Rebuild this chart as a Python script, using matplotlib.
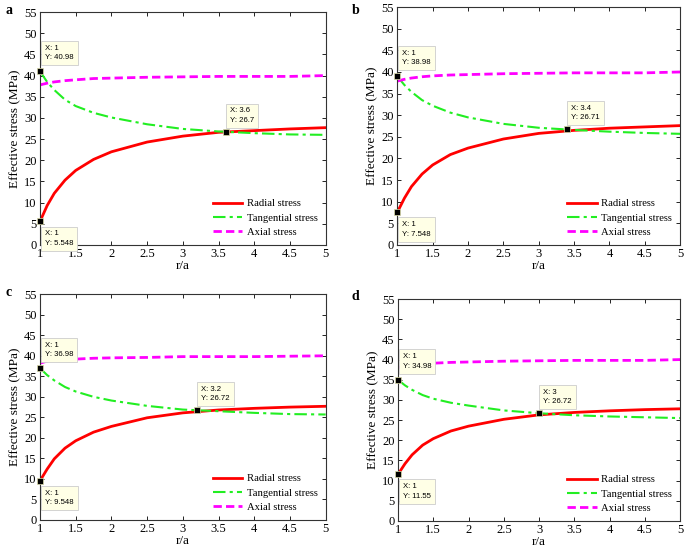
import matplotlib
matplotlib.use('Agg')
import matplotlib.pyplot as plt
from matplotlib.ticker import MultipleLocator, FormatStrFormatter

plt.rcParams['font.family'] = ['Liberation Serif', 'DejaVu Serif']

# r/a sample positions
x = [1, 1.1, 1.2, 1.35, 1.5, 1.75, 2, 2.5, 3, 3.5, 4, 4.5, 5]

radial_a = [5.55, 9.3, 12.2, 15.3, 17.6, 20.2, 22.0, 24.3, 25.7, 26.6, 27.0, 27.4, 27.7]
tang_a = [40.98, 38.5, 36.6, 34.3, 32.8, 31.2, 30.1, 28.5, 27.4, 26.8, 26.4, 26.1, 26.0]
axial_a = [37.8, 38.2, 38.5, 38.8, 39.0, 39.3, 39.4, 39.6, 39.7, 39.8, 39.8, 39.8, 40.0]

radial_b = [7.55, 10.8, 13.5, 16.4, 18.5, 20.9, 22.4, 24.5, 25.8, 26.5, 27.0, 27.3, 27.6]
tang_b = [38.98, 37.0, 35.4, 33.5, 32.2, 30.6, 29.5, 28.0, 27.1, 26.6, 26.2, 25.9, 25.7]
axial_b = [37.9, 38.3, 38.6, 38.9, 39.1, 39.3, 39.4, 39.6, 39.7, 39.8, 39.8, 39.8, 40.0]

radial_c = [9.55, 12.4, 14.9, 17.5, 19.3, 21.4, 22.8, 24.9, 26.1, 26.8, 27.2, 27.5, 27.7]
tang_c = [36.98, 35.3, 34.0, 32.4, 31.3, 30.0, 29.1, 27.8, 26.9, 26.5, 26.1, 25.8, 25.7]
axial_c = [38.2, 38.7, 38.9, 39.1, 39.2, 39.4, 39.5, 39.6, 39.8, 39.8, 39.8, 39.9, 40.0]

radial_d = [11.55, 14.2, 16.4, 18.8, 20.4, 22.3, 23.5, 25.2, 26.3, 26.9, 27.3, 27.6, 27.8]
tang_d = [34.98, 33.6, 32.5, 31.2, 30.3, 29.3, 28.6, 27.4, 26.7, 26.2, 25.9, 25.7, 25.5]
axial_d = [38.0, 38.5, 38.8, 39.0, 39.1, 39.3, 39.4, 39.6, 39.7, 39.8, 39.8, 39.8, 40.0]

# data tips: (x, y, label text) - top, bottom, crossing
tips_a = [(1, 40.98, '40.98'), (1, 5.548, '5.548'), (3.6, 26.7, '26.7')]
tips_b = [(1, 38.98, '38.98'), (1, 7.548, '7.548'), (3.4, 26.71, '26.71')]
tips_c = [(1, 36.98, '36.98'), (1, 9.548, '9.548'), (3.2, 26.72, '26.72')]
tips_d = [(1, 34.98, '34.98'), (1, 11.55, '11.55'), (3, 26.72, '26.72')]

panels = [
    ('a', [0.0584, 0.553, 0.417, 0.425], radial_a, tang_a, axial_a, tips_a, (5, 10)),
    ('b', [0.580, 0.553, 0.413, 0.434], radial_b, tang_b, axial_b, tips_b, (352, 10)),
    ('c', [0.0584, 0.0511, 0.417, 0.412], radial_c, tang_c, axial_c, tips_c, (5, 293)),
    ('d', [0.581, 0.0493, 0.412, 0.405], radial_d, tang_d, axial_d, tips_d, (352, 297)),
]

fig = plt.figure(figsize=(6.85, 5.48), dpi=100)

for name, rect, rad, tang, axl, tips, lab in panels:
    ax = fig.add_axes(rect)
    ax.plot(x, rad, color='red', lw=2.0, label='Radial stress')
    ax.plot(x, tang, color='#22ee22', lw=1.5, linestyle=(0, (6, 2, 1.5, 2)), label='Tangential stress')
    ax.plot(x, axl, color='#ff00ff', lw=2.0, linestyle=(0, (3, 1.5)), label='Axial stress')
    ax.set_xlim(1, 5)
    ax.set_ylim(0, 55)
    ax.xaxis.set_major_locator(MultipleLocator(0.5))
    ax.yaxis.set_major_locator(MultipleLocator(5))
    ax.xaxis.set_major_formatter(FormatStrFormatter('%g'))
    ax.tick_params(direction='in', top=True, right=True, labelsize=9, length=3, width=0.6, pad=2.5)
    for s in ax.spines.values():
        s.set_linewidth(0.8)
        s.set_color('#333333')
    ax.set_xlabel('r/a', fontsize=9.5, labelpad=0)
    ax.set_ylabel('Effective stress (MPa)', fontsize=9.5, labelpad=2)
    ax.legend(loc='lower right', frameon=False, fontsize=7.7, handlelength=2.8,
              labelspacing=0.45, handletextpad=0.4, borderaxespad=0.35)

    offsets = [((5, 10), 'bottom'), ((5, -9), 'top'), ((4, 8), 'bottom')]
    for (tx, ty, txt), (off, va) in zip(tips, offsets):
        ax.plot([tx], [ty], marker='s', ms=4.5, color='black', mec='#ddddaa', mew=0.5,
                clip_on=False, zorder=5)
        ax.annotate('X: %g\nY: %s' % (tx, txt), xy=(tx, ty), xytext=off,
                    textcoords='offset pixels', ha='left', va=va,
                    fontsize=5.6, family='Liberation Sans', linespacing=1.5,
                    bbox=dict(boxstyle='square,pad=0.5', fc='#ffffe6', ec='#cccccc', lw=0.6),
                    zorder=6, annotation_clip=False)

    fig.text(lab[0] / 685, 1 - lab[1] / 548, name, fontsize=10, fontweight='bold',
             ha='left', va='center')

fig.savefig('out.png', dpi=100)
